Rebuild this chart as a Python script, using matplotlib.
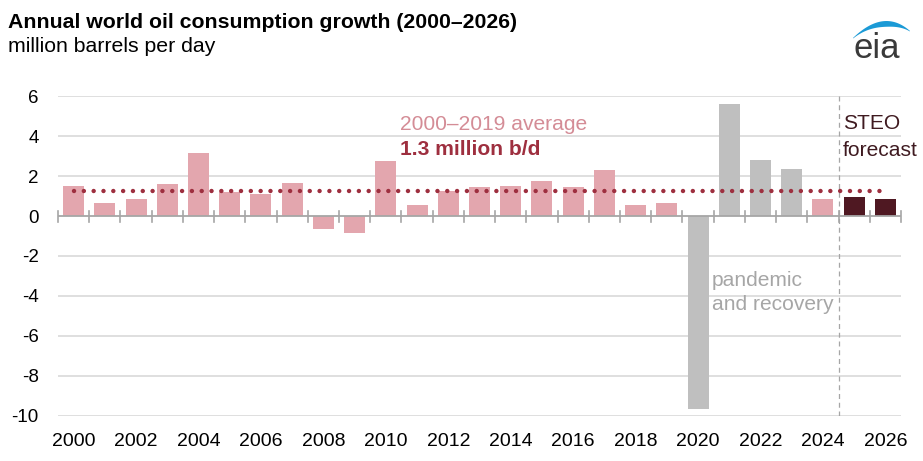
import matplotlib
matplotlib.use("Agg")
import matplotlib.pyplot as plt
from matplotlib.patches import Polygon
import numpy as np

years = list(range(2000, 2027))
growth = [1.5, 0.67, 0.83, 1.58, 3.15, 1.18, 1.08, 1.65, -0.63, -0.87,
          2.73, 0.53, 1.23, 1.45, 1.52, 1.77, 1.43, 2.28, 0.55, 0.67,
          -9.65, 5.62, 2.8, 2.33, 0.87, 0.93, 0.87]
category = (["history"] * 20 + ["pandemic"] * 4 + ["history"] + ["forecast"] * 2)
average = 1.25
yticks = [6, 4, 2, 0, -2, -4, -6, -8, -10]
xtick_years = list(range(2000, 2027, 2))

plt.rcParams['font.family'] = ["Liberation Sans", "DejaVu Sans"]

colors = {"history": "#E3A6AE", "pandemic": "#BFBFBF", "forecast": "#4F1822"}

fig = plt.figure(figsize=(9.23, 4.61), dpi=100)
ax = fig.add_axes([58/923, 1-416/461, (901-58)/923, (416-96)/461])

x = np.arange(len(years))
ax.bar(x, growth, width=0.67, color=[colors[c] for c in category], zorder=3)
ax.set_xlim(-0.5, len(years)-0.5)
ax.set_ylim(-10, 6)

for v in yticks:
    if v != 0:
        ax.axhline(v, color="#D9D9D9", lw=1.2, zorder=1)
ax.axhline(0, color="#A6A6A6", lw=1.3, zorder=4)
for b in np.arange(-0.5, len(years), 1.0):
    ax.plot([b, b], [0.25, -0.3], color="#A6A6A6", lw=1.2, zorder=4, clip_on=False)

ax.plot([0, len(years)-1], [average, average], linestyle=(0, (0.01, 2.2)),
        dash_capstyle="round", color="#9E2F3F", lw=3.2, zorder=5)

ax.axvline(24.5, ymin=0, ymax=1, color="#A6A6A6", lw=0.9, linestyle=(0, (4, 3)), zorder=2)

for s in ax.spines.values():
    s.set_visible(False)
ax.set_yticks(yticks)
ax.set_yticklabels([str(v) for v in yticks], fontsize=13.5)
ax.tick_params(axis="y", length=0, pad=14)
ax.set_xticks([years.index(y) for y in xtick_years])
ax.set_xticklabels([str(y) for y in xtick_years], fontsize=14)
ax.tick_params(axis="x", length=0, pad=12)

ax.text(10.45, 4.6, "2000\u20132019 average", color="#D48C96", fontsize=15.1, va="center", ha="left")
ax.text(10.45, 3.35, "1.3 million b/d", color="#9E2F3F", fontsize=15.1, fontweight="bold", va="center", ha="left")
ax.text(24.64, 4.65, "STEO", color="#3F1A20", fontsize=15.1, va="center", ha="left")
ax.text(24.64, 3.3, "forecast", color="#3F1A20", fontsize=15.1, va="center", ha="left")
ax.text(20.45, -3.2, "pandemic", color="#A6A6A6", fontsize=15.1, va="center", ha="left")
ax.text(20.45, -4.4, "and recovery", color="#A6A6A6", fontsize=15.1, va="center", ha="left")

fig.text(8/923, 1-22/461, "Annual world oil consumption growth (2000\u20132026)",
         fontsize=15.3, fontweight="bold", va="center", ha="left", color="#000000")
fig.text(8/923, 1-46/461, "million barrels per day", fontsize=15.3,
         va="center", ha="left", color="#000000")

# eia logo
fig.text(877/923, 1-58/461, "eia", fontsize=25, color="#3A3A3A", ha="center", va="baseline")
lax = fig.add_axes([0, 0, 1, 1])
lax.set_xlim(0, 923); lax.set_ylim(461, 0); lax.axis("off")
t = np.linspace(0, 1, 60)
P0, P1, P2 = np.array([853, 38]), np.array([884, 8]), np.array([910, 31])
curve = ((1 - t)[:, None] ** 2) * P0 + (2 * (1 - t) * t)[:, None] * P1 + (t ** 2)[:, None] * P2
d = 2 * (1 - t)[:, None] * (P1 - P0) + 2 * t[:, None] * (P2 - P1)
nrm = np.column_stack([-d[:, 1], d[:, 0]])
nrm = nrm / np.linalg.norm(nrm, axis=1)[:, None]
thick = 6.5 * np.sin(np.pi * t) ** 1.2 * (0.6 + 0.4 * t) + 0.5
inner = curve + nrm * thick[:, None]
pts = np.concatenate([curve, inner[::-1]])
lax.add_patch(Polygon(pts, closed=True, color="#1B9AD6", lw=0))

fig.savefig("out.png", dpi=100)
